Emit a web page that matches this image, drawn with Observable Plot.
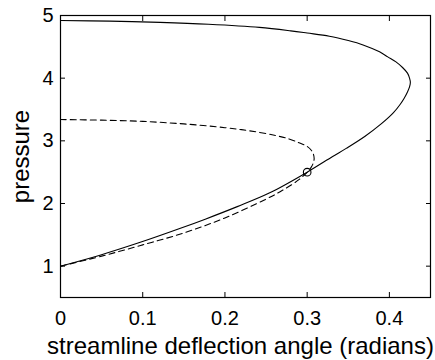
<!DOCTYPE html>
<html>
<head>
<meta charset="utf-8">
<script src="https://cdn.jsdelivr.net/npm/d3@7"></script>
<script src="https://cdn.jsdelivr.net/npm/@observablehq/plot@0.6"></script>
<style>
  html, body { margin: 0; padding: 0; background: white; }
</style>
</head>
<body>
<div id="chart"></div>
<script>
// Solid polar (ordered along the curve, from (0,1) through the max angle back to theta=0)
const solidAngle = [0, 0.048, 0.097, 0.145, 0.176, 0.215, 0.2545, 0.30, 0.331, 0.3475, 0.37, 0.39, 0.405, 0.413, 0.418,
                    0.422, 0.4245, 0.4255, 0.4245, 0.422, 0.416, 0.408, 0.398, 0.388, 0.368, 0.35, 0.327, 0.30, 0.28,
                    0.242, 0.18, 0.121, 0.06, 0];
const solidPressure = [1.00, 1.175, 1.38, 1.60, 1.75, 1.95, 2.17, 2.50, 2.75, 2.88, 3.07, 3.27, 3.45, 3.58, 3.68,
                       3.78, 3.86, 3.93, 4.00, 4.08, 4.17, 4.26, 4.34, 4.42, 4.53, 4.60, 4.67, 4.72, 4.755,
                       4.81, 4.86, 4.89, 4.91, 4.92];
// Dashed polar
const dashedAngle = [0, 0.05, 0.10, 0.15, 0.20, 0.25, 0.27, 0.29, 0.30, 0.305, 0.3075, 0.3085, 0.3075, 0.305, 0.30,
                     0.29, 0.278, 0.26, 0.23, 0.20, 0.15, 0.10, 0.05, 0];
const dashedPressure = [1.00, 1.16, 1.34, 1.53, 1.77, 2.07, 2.21, 2.38, 2.50, 2.58, 2.65, 2.72, 2.79, 2.85, 2.91,
                        2.97, 3.03, 3.09, 3.16, 3.21, 3.27, 3.31, 3.33, 3.34];
// Marked intersection point
const markAngle = [0.30];
const markPressure = [2.50];

const xTicks = [0, 0.1, 0.2, 0.3, 0.4];
const yTicks = [1, 2, 3, 4, 5];
const xLabel = "streamline deflection angle (radians)";
const yLabel = "pressure";

const solid = solidAngle.map((a, i) => ({a, p: solidPressure[i]}));
const dashed = dashedAngle.map((a, i) => ({a, p: dashedPressure[i]}));
const marks = markAngle.map((a, i) => ({a, p: markPressure[i]}));
const fmt = d => String(d);

const chart = Plot.plot({
  width: 435,
  height: 360,
  marginLeft: 60,
  marginRight: 5,
  marginTop: 15,
  marginBottom: 63,
  style: {fontFamily: "'Liberation Sans', Arial, Helvetica, sans-serif", fontSize: "20px", color: "black", background: "white"},
  x: {domain: [0, 0.45], label: null},
  y: {domain: [0.5, 5], label: null},
  marks: [
    Plot.line(solid, {x: "a", y: "p", stroke: "black", strokeWidth: 1.1, curve: "catmull-rom"}),
    Plot.line(dashed, {x: "a", y: "p", stroke: "black", strokeWidth: 1.1, strokeDasharray: "6,4", curve: "catmull-rom"}),
    Plot.dot(marks, {x: "a", y: "p", r: 3.8, stroke: "black", strokeWidth: 1.1, fill: "none"}),
    Plot.frame({stroke: "black", strokeWidth: 1.2}),
    Plot.axisX(xTicks, {anchor: "bottom", tickSize: -5, tickFormat: () => "", label: null}),
    Plot.axisX(xTicks, {anchor: "top", tickSize: -5, tickFormat: () => "", label: null}),
    Plot.axisY(yTicks, {anchor: "left", tickSize: -5, tickFormat: () => "", label: null}),
    Plot.axisY(yTicks, {anchor: "right", tickSize: -5, tickFormat: () => "", label: null}),
    Plot.axisX(xTicks, {anchor: "bottom", tickSize: 0, tickPadding: 13, label: null, fontSize: 20, tickFormat: fmt}),
    Plot.axisY(yTicks, {anchor: "left", tickSize: 0, tickPadding: 7, label: null, fontSize: 20, tickFormat: fmt}),
    Plot.text([xLabel], {frameAnchor: "bottom", dx: -5, dy: 48.5, fontSize: 24, lineAnchor: "middle", textAnchor: "middle"}),
    Plot.text([yLabel], {frameAnchor: "left", dx: -39.5, rotate: -90, fontSize: 24, lineAnchor: "middle", textAnchor: "middle"})
  ]
});
document.getElementById("chart").appendChild(chart);
</script>
</body>
</html>
